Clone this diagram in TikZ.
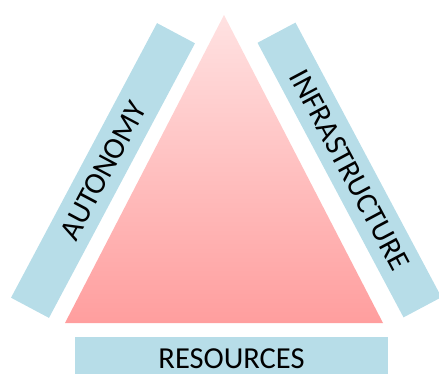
\documentclass[tikz,border=0pt]{standalone}
\usepackage{fontspec}
\setmainfont{Carlito}
\usetikzlibrary{positioning}
\definecolor{barblue}{HTML}{B7DDE8}
\definecolor{pinktop}{HTML}{FFE2E2}
\definecolor{pinkbot}{HTML}{FF9E9E}

\begin{document}
\begin{tikzpicture}[x=1pt, y=-1pt,
    bar/.style={fill=barblue, inner sep=0pt, minimum height=43pt,
        font=\fontsize{30.5}{34}\selectfont}]
    \useasboundingbox (0,0) rectangle (439,374);

    \coordinate (apex) at (224,15);
    \coordinate (baseL) at (65,323);
    \coordinate (baseR) at (383,323);
    \shade[top color=pinktop, bottom color=pinkbot] (apex) -- (baseL) -- (baseR) -- cycle;

    \node[bar, rotate=62, minimum width=311pt] (autonomy) at (103,170.5) {AUTONOMY};
    \node[bar, rotate=-62, minimum width=311pt] (infra) at (349.5,170) {INFRASTRUCTURE};
    \node[bar, minimum width=313pt, minimum height=44pt] (resources) at (231.5,359) {RESOURCES};
\end{tikzpicture}
\end{document}
